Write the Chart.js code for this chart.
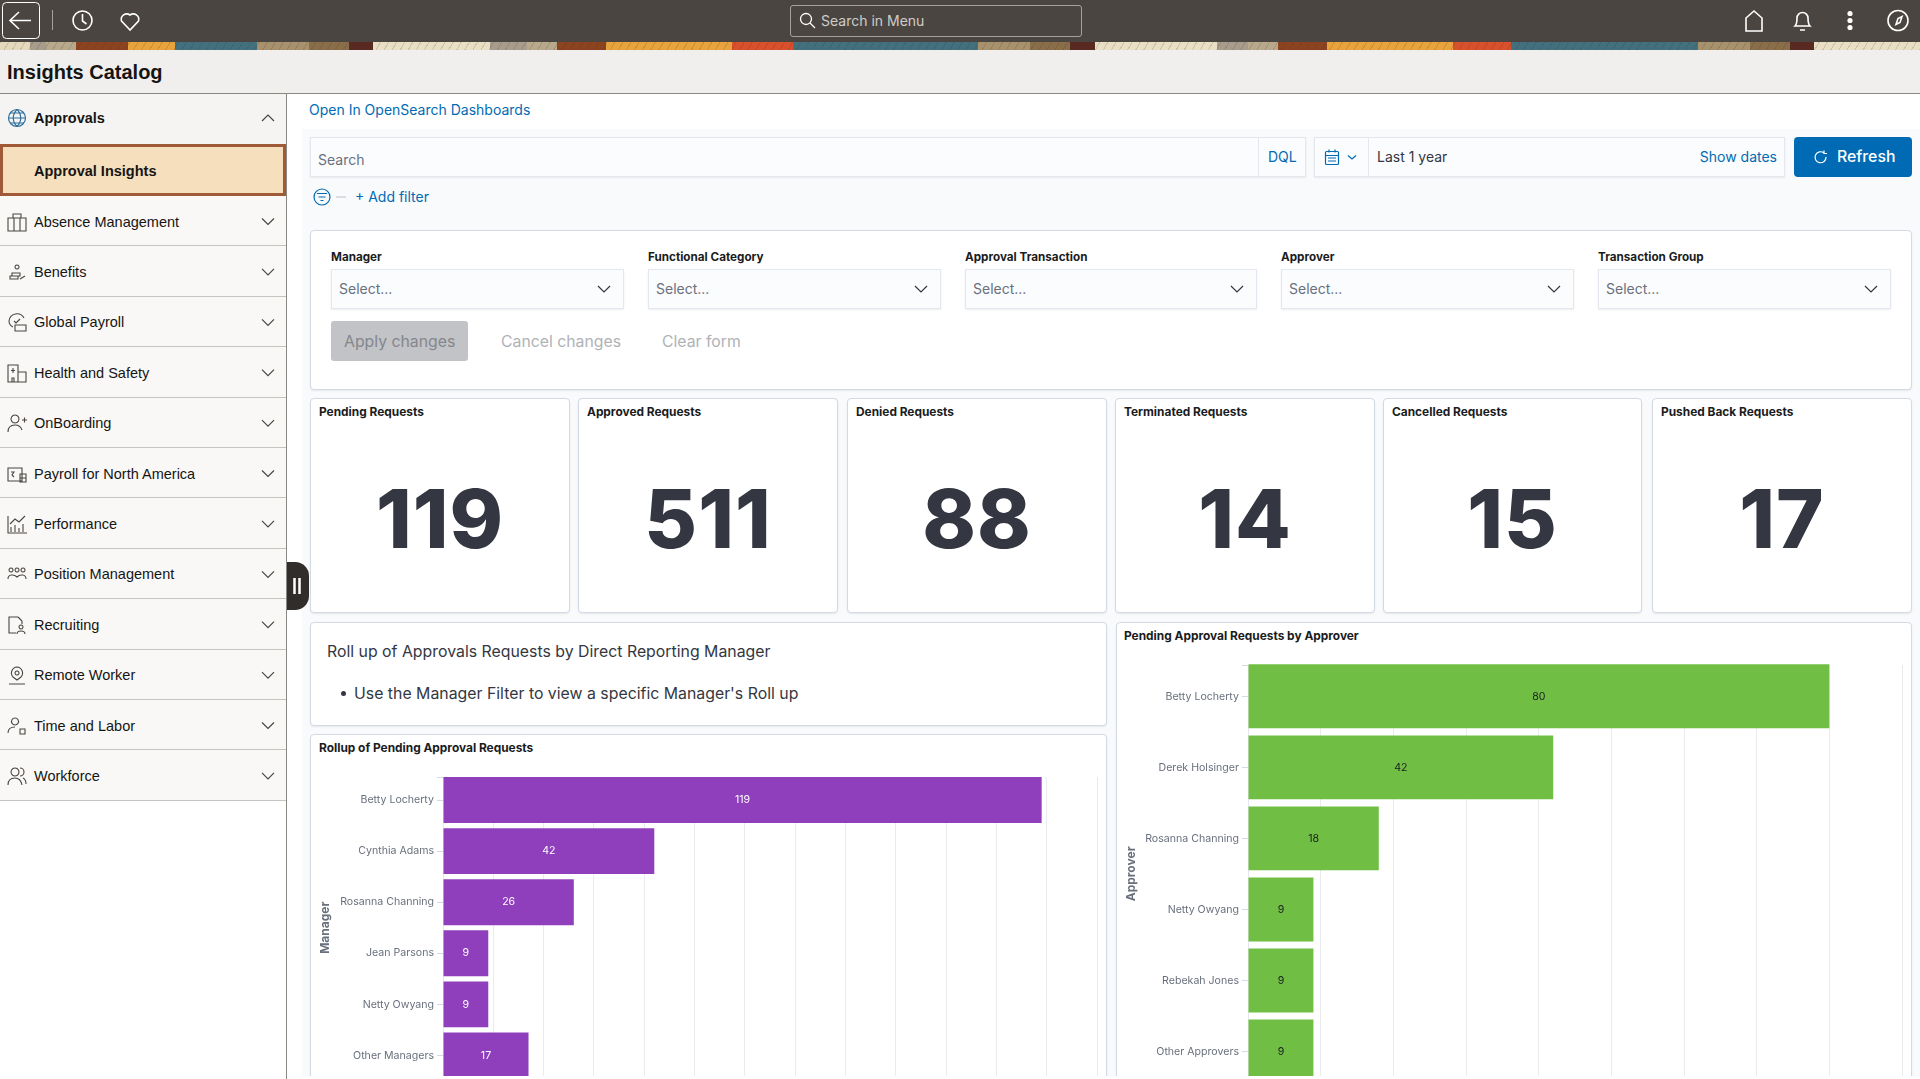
<!DOCTYPE html>
<html>
<head>
<meta charset="utf-8">
<title>Insights Catalog</title>
<script src="https://cdn.jsdelivr.net/npm/chart.js@4"></script>
<style>
html, body { margin: 0; padding: 0; width: 1920px; height: 1079px; overflow: hidden; background: #fff; font-family: Inter, sans-serif; }
.abs, .abs-text { position: absolute; box-sizing: border-box; }
.abs-text { white-space: nowrap; line-height: 20px; }
svg { position: absolute; fill: none; overflow: visible; }
#topbar { left: 0; top: 0; width: 1920px; height: 42px; background: #4a4540; }
#banner { left: 0; top: 42px; width: 1920px; height: 8px; background:
    repeating-linear-gradient(120deg, rgba(60,40,20,.16) 0 1px, rgba(0,0,0,0) 1px 7px),
    linear-gradient(90deg,
    #e4d9bd 0 30px, #a89d8c 30px 46px, #b8a98c 46px 76px, #8c4420 76px 128px, #e8a33c 128px 175px, #43707f 175px 257px,
    #a8926e 257px 309px, #8a6e4a 309px 349px, #5a2a22 349px 373px, #e8dfc5 373px 490px, #a89d8c 490px 527px, #b8a98c 527px 557px,
    #8c4420 557px 606px, #e8a33c 606px 732px, #d9502c 732px 793px, #43707f 793px 978px, #a8926e 978px 1030px, #8a6e4a 1030px 1070px,
    #5a2a22 1070px 1095px, #e8dfc5 1095px 1217px, #a89d8c 1217px 1248px, #b8a98c 1248px 1278px, #8c4420 1278px 1327px,
    #e8a33c 1327px 1453px, #d9502c 1453px 1511px, #43707f 1511px 1698px, #a8926e 1698px 1750px, #8a6e4a 1750px 1790px,
    #5a2a22 1790px 1814px, #e8dfc5 1814px 1920px); }
#header { left: 0; top: 50px; width: 1920px; height: 44px; background: #f1efed; border-bottom: 1px solid #8b8782; }
#pageTitle { left: 7px; top: 61px; font: bold 20px "Liberation Sans", sans-serif; color: #161513; }
#sidebar { left: 0; top: 94px; width: 287px; height: 985px; background: #fff; border-right: 1px solid #8b8782; }
.side-row { position: absolute; box-sizing: border-box; left: 0; width: 286px; background: #f9f8f6; border-bottom: 1px solid #c6c4c1; }
.side-label { position: absolute; left: 34px; font: 14.5px/20px "Liberation Sans", sans-serif; color: #161513; white-space: nowrap; }
#panel { left: 302px; top: 129px; width: 1618px; height: 950px; background: #f9fafc; }
.card { position: absolute; box-sizing: border-box; background: #fff; border: 1px solid #d3dae6; border-radius: 4px; box-shadow: 0 1px 2px rgba(0,0,0,.08); }
.field { position: absolute; box-sizing: border-box; background: #fbfcfd; border: 1px solid #e4e7ee; box-shadow: 0 1px 2px rgba(0,0,0,.07); }
.card-title { position: absolute; font-weight: 700; font-size: 11.9px; line-height: 16px; color: #1a1c21; white-space: nowrap; }
.big { position: absolute; left: 0; right: 0; text-align: center; font-weight: 800; font-size: 81px; line-height: 100px; color: #343741; letter-spacing: 1px; }
.blue { color: #006bb4; }
#chartClip { position: absolute; left: 0; top: 0; width: 1920px; height: 1076px; overflow: hidden; pointer-events: none; }
#bottomStrip { left: 287px; top: 1076px; width: 1633px; height: 3px; background: #fff; }
#handle { left: 287px; top: 562px; width: 22px; height: 48px; background: #312d2a; border-radius: 0 14px 14px 0; }
canvas { position: absolute; }
</style>
</head>
<body>
<div id="topbar" class="abs"></div>
<div id="banner" class="abs"></div>
<div id="header" class="abs"></div>
<div id="pageTitle" class="abs-text">Insights Catalog</div>

<!-- top bar icons -->
<svg style="left:0;top:0" width="10" height="10" stroke="#fff" stroke-width="1.6">
    <rect x="2.5" y="2.5" width="37" height="36" rx="4" stroke-width="1"/>
    <path d="M31 20.5H11M19 12l-9 8.5 9 8.5"/>
    <path d="M52.5 10v20" stroke="#a5a19c" stroke-width="1"/>
    <circle cx="82.5" cy="20.5" r="9.5"/><path d="M82.5 14v7l4 3"/>
    <path d="M130 30l-8.5-9a5.5 5.5 0 0 1 8.5-6 5.5 5.5 0 0 1 8.5 6z"/>
    <path d="M1746 31V18l8-7 8 7v13z"/>
    <path d="M1795 26c2-2 2-4 2-8a5.500 5.500 0 0 1 11 0c0 4 0 6 2 8zM1800 30h5"/>
    <circle cx="1850" cy="13.500" r="1.800" fill="#fff"/><circle cx="1850" cy="20.500" r="1.800" fill="#fff"/><circle cx="1850" cy="27.500" r="1.800" fill="#fff"/>
    <circle cx="1898" cy="20.500" r="10"/><path d="M1902 16.500l-2 6-4 2 2-6z"/>
    <circle cx="806" cy="19" r="5.500" stroke-width="1.300"/><path d="M810 23l5 5" stroke-width="1.300"/>
</svg>
<div class="abs" style="left:790px;top:5px;width:292px;height:32px;border:1px solid #a5a19c;border-radius:3px"></div>
<div class="abs-text" style="left:821px;top:11px;font-size:14px;color:#cfccc9">Search in Menu</div>

<div id="sidebar" class="abs"></div>
<div id="sideRows"></div>

<div id="panel" class="abs"></div>
<div id="handle" class="abs"></div>
<svg style="left:0;top:0" width="10" height="10" stroke="#fff" stroke-width="2.500"><path d="M294.500 578v16M299.500 578v16"/></svg>
<div class="abs-text blue" style="left:309px;top:100px;font-size:14px">Open In OpenSearch Dashboards</div>

<!-- query bar -->
<div class="field" style="left:310px;top:137px;width:996px;height:40px"></div>
<div class="abs" style="left:1258px;top:137px;width:1px;height:40px;background:#e4e7ee"></div>
<div class="abs-text" style="left:318px;top:150px;font-size:14px;color:#69707d">Search</div>
<div class="abs-text blue" style="left:1268px;top:147px;font-size:14px">DQL</div>
<div class="field" style="left:1314px;top:137px;width:471px;height:40px"></div>
<div class="abs" style="left:1368px;top:137px;width:1px;height:40px;background:#e4e7ee"></div>
<div class="abs-text" style="left:1377px;top:147px;font-size:14px;color:#343741">Last 1 year</div>
<div class="abs-text blue" style="right:143px;top:147px;font-size:14px">Show dates</div>
<div class="abs" style="left:1794px;top:137px;width:118px;height:40px;background:#006bb4;border-radius:4px"></div>
<div class="abs-text" style="left:1837px;top:147px;font-size:15.8px;font-weight:500;color:#fff">Refresh</div>
<svg style="left:0;top:0" width="10" height="10" stroke="#006bb4" stroke-width="1.200">
    <rect x="1325.500" y="151.500" width="13" height="13" rx="1"/><path d="M1325.500 155.500h13M1329 149.500v3M1335 149.500v3M1328 158h8M1328 161h8"/>
    <path d="M1348 155.500l4 3.500 4-3.500"/>
    <circle cx="322" cy="197" r="8"/><path d="M317 193.500h10M318.500 197h7M320.500 200.500h3"/>
    <path d="M336 197h10" stroke="#c5cad3"/>
    <path d="M1824 153a5.500 5.500 0 1 0 2 4M1824 150.500v3h3" stroke="#fff"/>
</svg>
<div class="abs-text blue" style="left:355px;top:187px;font-size:14px">+ Add filter</div>

<!-- controls -->
<div class="card" style="left:310px;top:230px;width:1602px;height:160px"></div>
<div id="filters"></div>
<div class="abs" style="left:331px;top:321px;width:137px;height:40px;background:#c2c3c6;border-radius:3px"></div>
<div class="abs-text" style="left:344px;top:332px;font-size:15.8px;color:#84878c">Apply changes</div>
<div class="abs-text" style="left:501px;top:332px;font-size:15.8px;color:#b0b2b6">Cancel changes</div>
<div class="abs-text" style="left:662px;top:332px;font-size:15.8px;color:#b0b2b6">Clear form</div>

<div id="stats"></div>

<!-- markdown card -->
<div class="card" style="left:310px;top:622px;width:797px;height:104px"></div>
<div class="abs-text" style="left:327px;top:642px;font-size:15.85px;color:#343741">Roll up of Approvals Requests by Direct Reporting Manager</div>
<div class="abs" style="left:341px;top:691px;width:5px;height:5px;border-radius:50%;background:#343741"></div>
<div class="abs-text" style="left:354px;top:684px;font-size:15.85px;color:#343741">Use the Manager Filter to view a specific Manager's Roll up</div>

<!-- charts -->
<div id="chartClip">
    <div class="card" style="left:310px;top:734px;width:797px;height:500px"></div>
    <div class="card" style="left:1116px;top:622px;width:796px;height:600px"></div>
    <div class="card-title" style="left:319px;top:740px">Rollup of Pending Approval Requests</div>
    <div class="card-title" style="left:1124px;top:628px">Pending Approval Requests by Approver</div>
    <canvas id="managerChart" style="left:311px;top:735px"></canvas>
    <canvas id="approverChart" style="left:1117px;top:623px"></canvas>
</div>
<div id="bottomStrip" class="abs"></div>

<script>
const statLabels = ['Pending Requests', 'Approved Requests', 'Denied Requests', 'Terminated Requests', 'Cancelled Requests', 'Pushed Back Requests'];
const statValues = [119, 511, 88, 14, 15, 17];

const managerNames = ['Betty Locherty', 'Cynthia Adams', 'Rosanna Channing', 'Jean Parsons', 'Netty Owyang', 'Other Managers'];
const managerCounts = [119, 42, 26, 9, 9, 17];

const approverNames = ['Betty Locherty', 'Derek Holsinger', 'Rosanna Channing', 'Netty Owyang', 'Rebekah Jones', 'Other Approvers'];
const approverCounts = [80, 42, 18, 9, 9, 9];

const filterLabels = ['Manager', 'Functional Category', 'Approval Transaction', 'Approver', 'Transaction Group'];
const sidebarItems = ['Absence Management', 'Benefits', 'Global Payroll', 'Health and Safety', 'OnBoarding', 'Payroll for North America',
    'Performance', 'Position Management', 'Recruiting', 'Remote Worker', 'Time and Labor', 'Workforce'];

// left edge and width of the filter boxes and the stat tiles
const filterBoxes = [[331, 293], [648, 293], [965, 292], [1281, 293], [1598, 293]];
const statBoxes = [[310, 260], [578, 260], [847, 260], [1115, 260], [1383, 259], [1652, 260]];

// rough line icons for the sidebar, drawn inside a 20x20 box
const sidebarIcons = [
    'M1 6h18v13H1zM6 6V2h8v4M7 6v13M13 6v13',
    'M10 3a2 2 0 1 0 .01 0M5 11h8v3H5zM3 14h8v3H3zM13 17l5-3',
    'M2 9a8 8 0 0 1 15-3M7 9l2 2 4-4M8 13h11v6H8zM2 9c0 3 2 5 4 6',
    'M1 2h10v17H1zM11 9h8v10h-8zM6 5v5M4 7.500h4M5 19v-4h2v4',
    'M8 2a4 4 0 1 0 .01 0M1 19c0-5 3-7 7-7s6 2 7 5M15 7h5M17.500 4.500v5',
    'M1 4h14v13H1zM4 8h3l-2 3 2 2M13 10h6v8h-6zM13 14h6',
    'M1 2v17h19M4 18v-5M8 18v-7M12 18v-4M16 18v-8M3 10l5-5 4 3 6-6',
    'M4 4a2 2 0 1 0 .01 0M10 4a2 2 0 1 0 .01 0M16 4a2 2 0 1 0 .01 0M1 15c0-5 6-5 9-2 3-3 9-3 9 2',
    'M11 2H2v16h7M11 2l4 4M15 6v3M14 10a2 2 0 1 0 .01 0M10 19c0-4 8-4 8 0',
    'M10 2a6 6 0 0 1 4 10l-4 3-4-3a6 6 0 0 1 4-10M10 6a2 2 0 1 0 .01 0M2 19h16',
    'M8 2a3.500 3.500 0 1 0 .01 0M1 17c0-4 3-6 7-6M13 13h5v5h-5z',
    'M8 2a4 4 0 1 0 .01 0M1 19c0-5 3-7 7-7s6 2 7 7M13 2a4 4 0 0 1 0 8M16 12c2 1 3 3 3 6'
];

function chevron(x, y, up, color) {
    const d = up ? `M${x - 6} ${y + 3}l6-6 6 6` : `M${x - 6} ${y - 3}l6 6 6-6`;
    return `<svg style="left:0;top:0" width="10" height="10" stroke="${color}" stroke-width="1.200"><path d="${d}"/></svg>`;
}

function buildSidebar() {
    let html = `<div class="side-row" style="top:94px;height:50px;background:#f5f4f2;border:none"></div>
        <div class="abs-text" style="left:34px;top:108px;font:bold 14.500px/20px 'Liberation Sans',sans-serif;color:#161513">Approvals</div>
        <svg style="left:0;top:0" width="10" height="10" stroke="#2e6f9e" stroke-width="1.200"><circle cx="17" cy="118" r="8.500"/><path d="M8.500 118h17M17 109.500c-5 5-5 12 0 17M17 109.500c5 5 5 12 0 17M10 113h14M10 123h14"/></svg>
        ${chevron(268, 118, true, '#4a4540')}
        <div class="abs" style="left:0;top:144px;width:286px;height:52px;background:#f5dfbd;border:3px solid #a05a37"></div>
        <div class="abs-text" style="left:34px;top:161px;font:bold 14.500px/20px 'Liberation Sans',sans-serif;color:#161513">Approval Insights</div>`;
    sidebarItems.forEach(function (item, i) {
        const top = 196 + i * 50.4;
        const mid = top + 25.5;
        html += `<div class="side-row" style="top:${top}px;height:50.4px"></div>
            <div class="side-label" style="top:${mid - 10}px">${item}</div>
            <svg style="left:7px;top:${mid - 10}px" width="20" height="20" stroke="#4a4540" stroke-width="1.100"><path d="${sidebarIcons[i]}"/></svg>
            ${chevron(268, mid, false, '#4a4540')}`;
    });
    document.getElementById('sideRows').innerHTML = html;
}

function buildFilters() {
    let html = '';
    filterLabels.forEach(function (label, i) {
        const [left, width] = filterBoxes[i];
        html += `<div class="card-title" style="left:${left}px;top:249px;font-size:11.7px">${label}</div>
            <div class="field" style="left:${left}px;top:269px;width:${width}px;height:40px"></div>
            <div class="abs-text" style="left:${left + 8}px;top:279px;font-size:14px;color:#69707d">Select...</div>
            ${chevron(left + width - 20, 289, false, '#343741')}`;
    });
    document.getElementById('filters').innerHTML = html;
}

function buildStats() {
    let html = '';
    statLabels.forEach(function (label, i) {
        const [left, width] = statBoxes[i];
        html += `<div class="card" style="left:${left}px;top:398px;width:${width}px;height:215px">
            <div class="card-title" style="left:8px;top:5px">${label}</div>
            <div class="big" style="top:70px">${statValues[i]}</div></div>`;
    });
    document.getElementById('stats').innerHTML = html;
}

// Draws the count in the middle of each bar
const barValueLabels = {
    id: 'barValueLabels',
    afterDatasetsDraw(chart, args, opts) {
        const ctx = chart.ctx;
        const values = chart.data.datasets[0].data;
        ctx.save();
        ctx.font = '10.6px Inter';
        ctx.fillStyle = opts.color;
        ctx.textAlign = 'center';
        ctx.textBaseline = 'middle';
        chart.getDatasetMeta(0).data.forEach(function (bar, i) {
            ctx.fillText(values[i], (bar.base + bar.x) / 2, bar.y);
        });
        ctx.restore();
    }
};

// The original has no outer padding: grid lines start level with the first bar's top
const trimGrid = {
    id: 'trimGrid',
    beforeDatasetsDraw(chart, args, opts) {
        const area = chart.chartArea;
        const ctx = chart.ctx;
        ctx.save();
        ctx.fillStyle = '#fff';
        ctx.fillRect(area.left - 12, area.top - 1, area.width + 14, opts.trim + 1);
        ctx.fillStyle = '#d3dae6';
        ctx.fillRect(area.left - 6, area.top + opts.trim, 7, 1);
        ctx.restore();
    }
};

function drawBarChart(id, names, counts, axisTitle, axisMax, barColor, labelColor, width, height, axisWidth, padTop, trim) {
    const canvas = document.getElementById(id);
    canvas.width = width;
    canvas.height = height;
    canvas.style.width = width + 'px';
    canvas.style.height = height + 'px';
    new Chart(canvas, {
        type: 'bar',
        data: {
            labels: names,
            datasets: [{
                data: counts,
                backgroundColor: barColor,
                barPercentage: 0.9,
                categoryPercentage: 1
            }]
        },
        options: {
            indexAxis: 'y',
            responsive: false,
            animation: false,
            layout: {padding: {top: padTop, right: 8, left: 0, bottom: 0}},
            scales: {
                x: {
                    min: 0,
                    max: axisMax,
                    ticks: {stepSize: 10, color: '#69707d', font: {family: 'Inter', size: 10.6}},
                    grid: {color: '#e9ebef', tickLength: 6},
                    border: {display: false},
                    afterFit: function (scale) {
                        scale.height = 40;
                        // stop the last tick label from pulling the plot in
                        scale.paddingRight = 0;
                        scale.paddingLeft = 0;
                    }
                },
                y: {
                    ticks: {color: '#69707d', font: {family: 'Inter', size: 10.6}, padding: 3},
                    grid: {display: true, offset: false, drawOnChartArea: false, color: '#d3dae6', tickLength: 6},
                    border: {display: true, color: '#e4e7ee'},
                    title: {display: true, text: axisTitle, color: '#69707d', font: {family: 'Inter', size: 12, weight: 'bold'}, padding: {top: 7, bottom: 4}},
                    afterFit: function (scale) { scale.width = axisWidth; }
                }
            },
            plugins: {
                legend: {display: false},
                tooltip: {enabled: false},
                barValueLabels: {color: labelColor},
                trimGrid: {trim: trim}
            }
        },
        plugins: [trimGrid, barValueLabels]
    });
}

document.addEventListener('DOMContentLoaded', function () {
    buildSidebar();
    buildFilters();
    buildStats();
    drawBarChart('managerChart', managerNames, managerCounts, 'Manager', 130, '#8f3fbb', '#ffffff', 794, 386, 132, 39.5, 2.5);
    drawBarChart('approverChart', approverNames, approverCounts, 'Approver', 90, '#70bf44', '#1a1c21', 793, 504, 131, 37.8, 4.2);
});
</script>
</body>
</html>
